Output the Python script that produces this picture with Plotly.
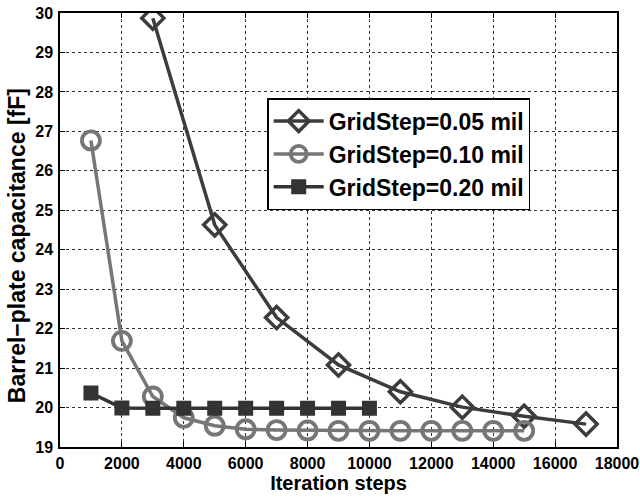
import plotly.graph_objects as go

x05 = [3000, 5000, 7000, 9000, 11000, 13000, 15000, 17000]
y05 = [29.87, 24.63, 22.28, 21.08, 20.40, 20.01, 19.78, 19.58]
x10 = [1000, 2000, 3000, 4000, 5000, 6000, 7000, 8000, 9000, 10000, 11000, 12000, 13000, 14000, 15000]
y10 = [26.77, 21.69, 20.28, 19.74, 19.54, 19.45, 19.43, 19.42, 19.41, 19.41, 19.41, 19.41, 19.41, 19.41, 19.41]
x20 = [1000, 2000, 3000, 4000, 5000, 6000, 7000, 8000, 9000, 10000]
y20 = [20.37, 19.99, 19.98, 19.98, 19.98, 19.98, 19.98, 19.98, 19.98, 19.98]
names = ["GridStep=0.05 mil", "GridStep=0.10 mil", "GridStep=0.20 mil"]
xticks = list(range(0, 18001, 2000))
yticks = list(range(19, 31))
xlabel = "Iteration steps"
ylabel = "Barrel\u2212plate capacitance [fF]"

fig = go.Figure()
fig.add_trace(go.Scatter(x=x05, y=y05, name=names[0], mode="lines+markers",
                         line=dict(color="#3c3c3c", width=3.5),
                         marker=dict(symbol="diamond-open", size=17, color="#3c3c3c", line=dict(width=3.5))))
fig.add_trace(go.Scatter(x=x10, y=y10, name=names[1], mode="lines+markers",
                         line=dict(color="#767676", width=3.5),
                         marker=dict(symbol="circle-open", size=18, color="#767676", line=dict(width=3.8))))
fig.add_trace(go.Scatter(x=x20, y=y20, name=names[2], mode="lines+markers",
                         line=dict(color="#333333", width=3.5),
                         marker=dict(symbol="square", size=13, color="#333333", line=dict(width=2, color="#333333"))))

FONT = "Liberation Sans, Arial"
fig.update_layout(
    width=640, height=500,
    paper_bgcolor="white", plot_bgcolor="white",
    margin=dict(l=60, r=23, t=13, b=53),
    font=dict(family=FONT, color="black"),
    showlegend=True,
    legend=dict(x=0.372, y=0.804, xanchor="left", yanchor="top",
                bgcolor="white", bordercolor="black", borderwidth=1.5,
                font=dict(size=23, family=FONT, weight="bold"),
                itemwidth=50, tracegroupgap=0),
    annotations=[dict(text=ylabel, xref="paper", yref="paper", x=-0.077, y=0.463,
                      xanchor="center", yanchor="middle", textangle=-90, showarrow=False,
                      font=dict(size=23, weight="bold", family=FONT, color="black"))],
)
fig.update_xaxes(range=[0, 18000], tickvals=xticks,
                 ticktext=[str(v) for v in xticks], automargin=False,
                 tickfont=dict(size=16, weight="bold", family=FONT),
                 ticklabelstandoff=1, ticklabeloverflow="allow",
                 title=dict(text=xlabel, font=dict(size=20, weight="bold"), standoff=2),
                 showline=True, linecolor="black", linewidth=1.5, mirror="ticks",
                 ticks="inside", ticklen=5, tickcolor="black",
                 showgrid=True, gridcolor="#333333", griddash="dot", gridwidth=1, zeroline=False)
fig.update_yaxes(range=[19, 30], tickvals=yticks, automargin=False,
                 tickfont=dict(size=16, weight="bold", family=FONT),
                 ticklabelstandoff=2, ticklabeloverflow="allow",
                 showline=True, linecolor="black", linewidth=1.5, mirror="ticks",
                 ticks="inside", ticklen=5, tickcolor="black",
                 showgrid=True, gridcolor="#333333", griddash="dot", gridwidth=1, zeroline=False)

fig.write_html("out.html", config={"displayModeBar": False},
               post_script="document.body.style.margin='0';")
